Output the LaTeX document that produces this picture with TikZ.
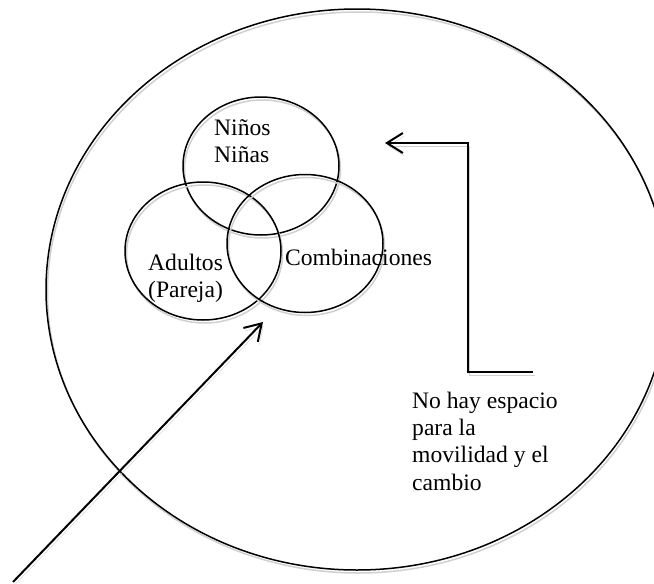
\documentclass[tikz,border=0pt]{standalone}
\usepackage{fontspec}
\setmainfont{Liberation Serif}
\usetikzlibrary{shapes.geometric,arrows.meta}
\definecolor{shadowgray}{HTML}{D0D0D0}
\begin{document}
\begin{tikzpicture}[x=1pt,y=-1pt,
  shadowed/.style={preaction={draw=shadowgray,transform canvas={shift={(1.5pt,-3pt)}}}},
  ring/.style={shadowed,draw,ellipse,line width=1.5pt,inner sep=0pt,outer sep=0pt},
  venn/.style={ring,minimum width=156pt,minimum height=138pt},
  pointer/.style={shadowed,draw,line width=2pt,-{Straight Barb[length=16pt,width=20pt]}},
  txt/.style={anchor=base west,inner sep=0pt,align=left,font=\fontsize{23.6pt}{27.3pt}\selectfont}]
\useasboundingbox (0,0) rectangle (654,584);

% outer boundary
\node[ring,minimum width=622pt,minimum height=561pt] (world) at (357,289.5) {};

% the three overlapping groups
\node[venn] (kids) at (261,166) {};
\node[venn] (adults) at (203,251) {};
\node[venn] (mixed) at (305,243.5) {};

% group labels (placed by the baseline of their last line)
\node[txt] (kidsText) at (214,162.3) {Niños\\Niñas};
\node[txt] (adultsText) at (148,297.3) {Adultos\\(Pareja)};
\node[txt] (mixedText) at (285,265) {Combinaciones};
\node[txt] (noteText) at (412,490) {No hay espacio\\para la\\movilidad y el\\cambio};

% bent arrow from the note
\coordinate (bendStart) at (533,372);
\coordinate (bendCorner) at (468,143);
\coordinate (bendTip) at (385,143);
\draw[pointer] (bendStart) -| (bendCorner) -- (bendTip);

% diagonal arrow from outside
\coordinate (diagStart) at (13,582);
\coordinate (diagTip) at (263,322);
\draw[pointer] (diagStart) -- (diagTip);
\end{tikzpicture}
\end{document}
